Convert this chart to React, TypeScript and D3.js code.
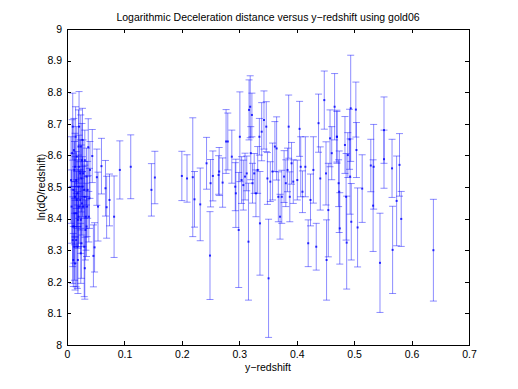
import React, { useRef, useEffect } from 'react';
import * as d3 from 'd3';

// y-redshift of each supernova
const redshift = [
  // dense low-z cluster
  0.010, 0.011, 0.012, 0.014, 0.016, 0.017, 0.018, 0.016, 0.020, 0.021,
  0.023, 0.024, 0.025, 0.026, 0.027, 0.028, 0.030, 0.033, 0.034, 0.035,
  0.039, 0.012, 0.013, 0.014, 0.017, 0.019, 0.020, 0.021, 0.025, 0.027,
  0.008, 0.010, 0.011, 0.014, 0.018, 0.020, 0.023, 0.024, 0.028, 0.031,
  0.034, 0.009, 0.013, 0.007, 0.015, 0.021, 0.024, 0.031, 0.036, 0.040,
  0.010, 0.013, 0.016, 0.019, 0.026, 0.030, 0.032, 0.038,
  // sparse
  0.092, 0.111, 0.147, 0.153, 0.082, 0.074, 0.069, 0.067, 0.060, 0.052,
  0.054, 0.046, 0.044, 0.048, 0.031, 0.037,
  // mid
  0.200, 0.209, 0.219, 0.222, 0.232, 0.243, 0.249, 0.250, 0.254, 0.264,
  0.265, 0.271, 0.277, 0.280, 0.287, 0.293, 0.294, 0.299, 0.301, 0.304,
  0.307, 0.310, 0.313, 0.316, 0.317, 0.319, 0.320, 0.322, 0.323, 0.326,
  0.329, 0.332, 0.335, 0.336, 0.339, 0.343, 0.347, 0.349, 0.351, 0.354,
  0.358, 0.362, 0.365, 0.368, 0.371, 0.374, 0.378, 0.381, 0.384, 0.386,
  0.388, 0.391, 0.394, 0.405, 0.401, 0.407, 0.410, 0.415, 0.420, 0.424,
  0.429, 0.434, 0.438, 0.441, 0.448, 0.451, 0.452, 0.455, 0.458, 0.461,
  0.466, 0.470, 0.473,
  // high
  0.494, 0.503, 0.504, 0.514, 0.506, 0.529, 0.533, 0.534, 0.545, 0.552,
  0.552, 0.566, 0.567, 0.574, 0.579, 0.582, 0.638, 0.470, 0.474, 0.475,
  0.484, 0.486, 0.487, 0.489, 0.493, 0.495, 0.492,
];

// ln(dQ/redshift)
const lnDQ = [
  8.691, 8.491, 8.617, 8.469, 8.332, 8.596, 8.311, 8.417, 8.501, 8.438,
  8.459, 8.396, 8.527, 8.585, 8.649, 8.438, 8.311, 8.406, 8.375, 8.438,
  8.464, 8.375, 8.311, 8.564, 8.459, 8.269, 8.406, 8.564, 8.322, 8.501,
  8.438, 8.375, 8.269, 8.258, 8.480, 8.628, 8.543, 8.290, 8.543, 8.469,
  8.533, 8.607, 8.417, 8.522, 8.659, 8.691, 8.628, 8.585, 8.491, 8.554,
  8.332, 8.554, 8.522, 8.396, 8.448, 8.491, 8.364, 8.406,
  8.554, 8.564, 8.491, 8.530, 8.406, 8.459, 8.436, 8.496, 8.566, 8.531,
  8.438, 8.282, 8.598, 8.309, 8.243, 8.626,
  8.535, 8.527, 8.531, 8.461, 8.445, 8.575, 8.283, 8.512, 8.535, 8.538,
  8.549, 8.514, 8.644, 8.644, 8.596, 8.501, 8.480, 8.364, 8.659, 8.522,
  8.506, 8.533, 8.543, 8.327, 8.744, 8.754, 8.607, 8.728, 8.512, 8.543,
  8.480, 8.554, 8.659, 8.385, 8.675, 8.712, 8.691, 8.527, 8.211, 8.517,
  8.549, 8.628, 8.622, 8.469, 8.406, 8.469, 8.533, 8.512, 8.554, 8.691,
  8.469, 8.575, 8.517, 8.684, 8.522, 8.564, 8.485, 8.564, 8.322, 8.459,
  8.554, 8.311, 8.702, 8.527, 8.775, 8.543, 8.269, 8.427, 8.654, 8.607,
  8.754, 8.659, 8.512,
  8.749, 8.745, 8.617, 8.495, 8.372, 8.568, 8.441, 8.564, 8.260, 8.680,
  8.588, 8.559, 8.301, 8.456, 8.570, 8.399, 8.300, 8.659, 8.485, 8.369,
  8.633, 8.469, 8.324, 8.601, 8.533, 8.390, 8.651,
];

// half length of each error bar
const errHalf = [
  0.106, 0.116, 0.100, 0.127, 0.148, 0.095, 0.132, 0.106, 0.100, 0.116,
  0.095, 0.106, 0.106, 0.116, 0.100, 0.127, 0.158, 0.106, 0.095, 0.095,
  0.095, 0.116, 0.106, 0.106, 0.090, 0.106, 0.095, 0.100, 0.111, 0.095,
  0.116, 0.127, 0.084, 0.084, 0.106, 0.116, 0.106, 0.095, 0.106, 0.100,
  0.090, 0.106, 0.100, 0.137, 0.095, 0.111, 0.100, 0.095, 0.090, 0.090,
  0.137, 0.090, 0.090, 0.090, 0.100, 0.090, 0.095, 0.080,
  0.092, 0.101, 0.083, 0.083, 0.129, 0.082, 0.098, 0.088, 0.088, 0.089,
  0.109, 0.098, 0.084, 0.078, 0.098, 0.090,
  0.078, 0.075, 0.188, 0.088, 0.115, 0.082, 0.139, 0.075, 0.079, 0.061,
  0.076, 0.078, 0.101, 0.090, 0.084, 0.076, 0.108, 0.182, 0.142, 0.074,
  0.079, 0.074, 0.055, 0.185, 0.095, 0.098, 0.084, 0.069, 0.063, 0.063,
  0.074, 0.074, 0.058, 0.164, 0.092, 0.092, 0.079, 0.082, 0.187, 0.063,
  0.090, 0.079, 0.100, 0.079, 0.071, 0.084, 0.082, 0.074, 0.069, 0.100,
  0.079, 0.066, 0.069, 0.087, 0.063, 0.095, 0.066, 0.095, 0.074, 0.082,
  0.105, 0.074, 0.092, 0.100, 0.092, 0.100, 0.127, 0.148, 0.090, 0.084,
  0.105, 0.084, 0.074,
  0.168, 0.087, 0.087, 0.107, 0.125, 0.083, 0.145, 0.134, 0.157, 0.105,
  0.092, 0.092, 0.138, 0.142, 0.099, 0.087, 0.161, 0.080, 0.129, 0.113,
  0.090, 0.137, 0.147, 0.071, 0.119, 0.121, 0.095,
];

const xTicks = [0, 0.1, 0.2, 0.3, 0.4, 0.5, 0.6, 0.7];
const yTicks = [8, 8.1, 8.2, 8.3, 8.4, 8.5, 8.6, 8.7, 8.8, 8.9, 9];

const FONT = '"Liberation Sans", Arial, Helvetica, sans-serif';

export default function App() {
  const svgRef = useRef<SVGSVGElement>(null);

  useEffect(() => {
    const svg = d3.select(svgRef.current);
    svg.selectAll('*').remove();

    const margin = { top: 29, right: 49, bottom: 44, left: 67 };
    const width = 518;
    const height = 389;

    const x = d3.scaleLinear().domain([0, 0.7]).range([margin.left, width - margin.right]);
    const y = d3.scaleLinear().domain([8, 9]).range([height - margin.bottom, margin.top]);

    // white background
    svg.append('rect').attr('width', width).attr('height', height).attr('fill', '#fff');

    const data = redshift.map((r, i) => ({ r, v: lnDQ[i], e: errHalf[i] }));
    const cap = 3.5;

    const bars = svg.append('g')
      .attr('stroke', '#0000ff')
      .attr('stroke-opacity', 0.45)
      .attr('stroke-width', 1);

    const g = bars.selectAll('g.eb').data(data).enter().append('g').attr('class', 'eb');
    g.append('line')
      .attr('x1', d => x(d.r)).attr('x2', d => x(d.r))
      .attr('y1', d => y(d.v - d.e)).attr('y2', d => y(d.v + d.e));
    g.append('line')
      .attr('x1', d => x(d.r) - cap).attr('x2', d => x(d.r) + cap)
      .attr('y1', d => y(d.v + d.e)).attr('y2', d => y(d.v + d.e));
    g.append('line')
      .attr('x1', d => x(d.r) - cap).attr('x2', d => x(d.r) + cap)
      .attr('y1', d => y(d.v - d.e)).attr('y2', d => y(d.v - d.e));

    svg.append('g')
      .selectAll('rect')
      .data(data)
      .enter()
      .append('rect')
      .attr('x', d => x(d.r) - 1)
      .attr('y', d => y(d.v) - 1)
      .attr('width', 2)
      .attr('height', 2)
      .attr('fill', '#0000ff')
      .attr('fill-opacity', 0.8);

    const fmt = (d: d3.NumberValue) => String(+d);

    // axes, ticks pointing inward
    const bottom = svg.append('g')
      .attr('transform', `translate(0,${y(8)})`)
      .call(d3.axisBottom(x).tickValues(xTicks).tickFormat(fmt).tickSizeInner(-4).tickSizeOuter(0).tickPadding(6));
    const left = svg.append('g')
      .attr('transform', `translate(${x(0)},0)`)
      .call(d3.axisLeft(y).tickValues(yTicks).tickFormat(fmt).tickSizeInner(-4).tickSizeOuter(0).tickPadding(5));
    const top = svg.append('g')
      .attr('transform', `translate(0,${y(9)})`)
      .call(d3.axisTop(x).tickValues(xTicks).tickFormat(() => '').tickSizeInner(-4).tickSizeOuter(0));
    const right = svg.append('g')
      .attr('transform', `translate(${x(0.7)},0)`)
      .call(d3.axisRight(y).tickValues(yTicks).tickFormat(() => '').tickSizeInner(-4).tickSizeOuter(0));

    [bottom, left, top, right].forEach(a => {
      a.select('.domain').remove();
      a.selectAll('line').attr('stroke', '#000').attr('shape-rendering', 'crispEdges');
      a.selectAll('text').attr('font-family', FONT).attr('font-size', 10.5).attr('fill', '#000');
    });

    svg.append('rect')
      .attr('x', x(0)).attr('y', y(9))
      .attr('width', x(0.7) - x(0)).attr('height', y(8) - y(9))
      .attr('fill', 'none').attr('stroke', '#000').attr('shape-rendering', 'crispEdges');

    // title and labels
    svg.append('text')
      .attr('x', (x(0) + x(0.7)) / 2).attr('y', 21)
      .attr('text-anchor', 'middle')
      .attr('font-family', FONT).attr('font-size', 10.5)
      .text('Logarithmic Deceleration distance versus y\u2212redshift using gold06');

    svg.append('text')
      .attr('x', (x(0) + x(0.7)) / 2).attr('y', 371)
      .attr('text-anchor', 'middle')
      .attr('font-family', FONT).attr('font-size', 10.5)
      .text('y\u2212redshift');

    svg.append('text')
      .attr('transform', `translate(45,${(y(8) + y(9)) / 2}) rotate(-90)`)
      .attr('text-anchor', 'middle')
      .attr('font-family', FONT).attr('font-size', 10.5)
      .text('ln(dQ/redshift)');
  }, []);

  return (
    <svg
      ref={svgRef}
      width={518}
      height={389}
      style={{ position: 'absolute', left: 0, top: 0, display: 'block' }}
    />
  );
}
